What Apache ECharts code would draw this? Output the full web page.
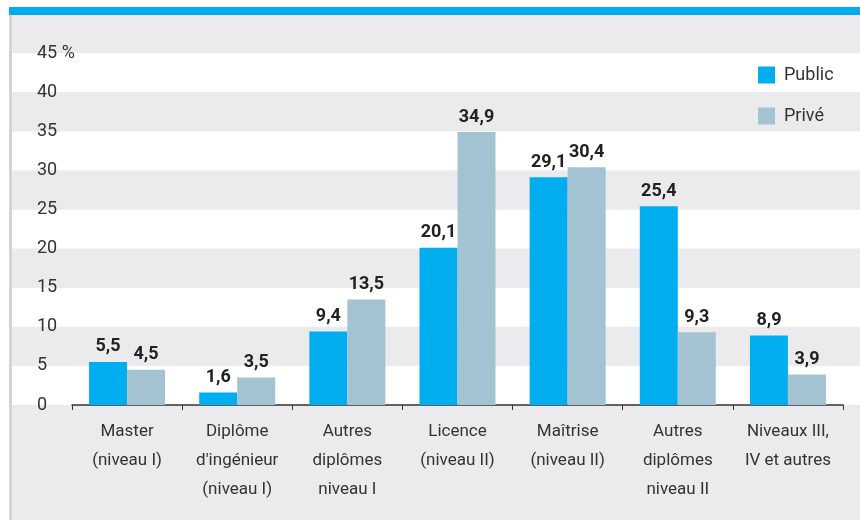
<!DOCTYPE html>
<html>
<head>
<meta charset="UTF-8">
<title>Public / Privé</title>
<script src="https://cdn.jsdelivr.net/npm/echarts@6/dist/echarts.min.js"></script>
<style>
  html, body { margin: 0; padding: 0; background: #fff; }
  #main { width: 860px; height: 520px; }
</style>
</head>
<body>
<div id="main"></div>
<script>
// données
var categories = [
  'Master\n(niveau I)',
  'Diplôme\nd\'ingénieur\n(niveau I)',
  'Autres\ndiplômes\nniveau I',
  'Licence\n(niveau II)',
  'Maîtrise\n(niveau II)',
  'Autres\ndiplômes\nniveau II',
  'Niveaux III,\nIV et autres'
];
var publicVals = [5.5, 1.6, 9.4, 20.1, 29.1, 25.4, 8.9];
var priveVals = [4.5, 3.5, 13.5, 34.9, 30.4, 9.3, 3.9];
var yTicks = { min: 0, max: 45, interval: 5 };

var FONT = 'Roboto, sans-serif';
var TOP = 53, BOTTOM = 115;

var myChart = echarts.init(document.getElementById('main'));

function virgule(p) {
  return String(p.value).replace('.', ',');
}

var option = {
  backgroundColor: '#ebebed',
  animation: false,
  textStyle: { fontFamily: FONT },
  graphic: [
    // cadre : bandeau bleu en haut, liseré gris à gauche
    { type: 'rect', left: 0, top: 0, shape: { width: 860, height: 7 }, style: { fill: '#ffffff' } },
    { type: 'rect', left: 0, top: 0, shape: { width: 9, height: 520 }, style: { fill: '#ffffff' } },
    { type: 'rect', left: 9, top: 7, shape: { width: 851, height: 8 }, style: { fill: '#00aeef' } },
    { type: 'rect', left: 9, top: 15, shape: { width: 3, height: 505 }, style: { fill: '#d4d4d6' } }
  ],
  legend: {
    orient: 'vertical',
    left: 753,
    top: 61,
    itemWidth: 17,
    itemHeight: 17,
    itemGap: 23,
    icon: 'rect',
    data: ['Public', 'Privé'],
    textStyle: { fontFamily: FONT, fontSize: 18, color: '#333', padding: [0, 0, 0, 4] }
  },
  grid: [
    // grille de fond pour les bandes pleine largeur
    { left: 12, right: 0, top: TOP, bottom: BOTTOM },
    { left: 72, right: 17, top: TOP, bottom: BOTTOM }
  ],
  xAxis: [
    { gridIndex: 0, type: 'category', data: categories, show: false },
    {
      gridIndex: 1,
      type: 'category',
      data: categories,
      axisLine: { lineStyle: { color: '#333', width: 1.5 } },
      axisTick: { show: true, length: 5, lineStyle: { color: '#333' } },
      axisLabel: {
        interval: 0,
        margin: 12,
        fontFamily: FONT,
        fontSize: 17,
        lineHeight: 29,
        color: '#333'
      }
    }
  ],
  yAxis: [
    {
      gridIndex: 0,
      type: 'value',
      min: yTicks.min, max: yTicks.max, interval: yTicks.interval,
      axisLine: { show: false },
      axisTick: { show: false },
      axisLabel: { show: false },
      splitLine: { show: false },
      splitArea: { show: true, areaStyle: { color: ['#ffffff', '#ebebed'] } }
    },
    {
      gridIndex: 1,
      type: 'value',
      min: yTicks.min, max: yTicks.max, interval: yTicks.interval,
      axisLine: { show: false },
      axisTick: { show: false },
      splitLine: { show: false },
      axisLabel: {
        align: 'left',
        margin: 35,
        fontFamily: FONT,
        fontSize: 18,
        color: '#333',
        padding: [4, 0, 0, 0],
        formatter: function (v) { return v === 45 ? '45 %' : v; }
      }
    }
  ],
  series: [
    {
      name: 'Public',
      type: 'bar',
      xAxisIndex: 1,
      yAxisIndex: 1,
      data: publicVals,
      barWidth: 38,
      barGap: '0%',
      itemStyle: { color: '#00aeef' },
      label: {
        show: true, position: 'top', distance: 6,
        fontFamily: FONT, fontSize: 18, fontWeight: 'bold', color: '#222',
        formatter: virgule
      }
    },
    {
      name: 'Privé',
      type: 'bar',
      xAxisIndex: 1,
      yAxisIndex: 1,
      data: priveVals,
      barWidth: 38,
      barGap: '0%',
      itemStyle: { color: '#a3c3d3' },
      label: {
        show: true, position: 'top', distance: 6,
        fontFamily: FONT, fontSize: 18, fontWeight: 'bold', color: '#222',
        formatter: virgule
      }
    }
  ]
};

myChart.setOption(option);
</script>
</body>
</html>
